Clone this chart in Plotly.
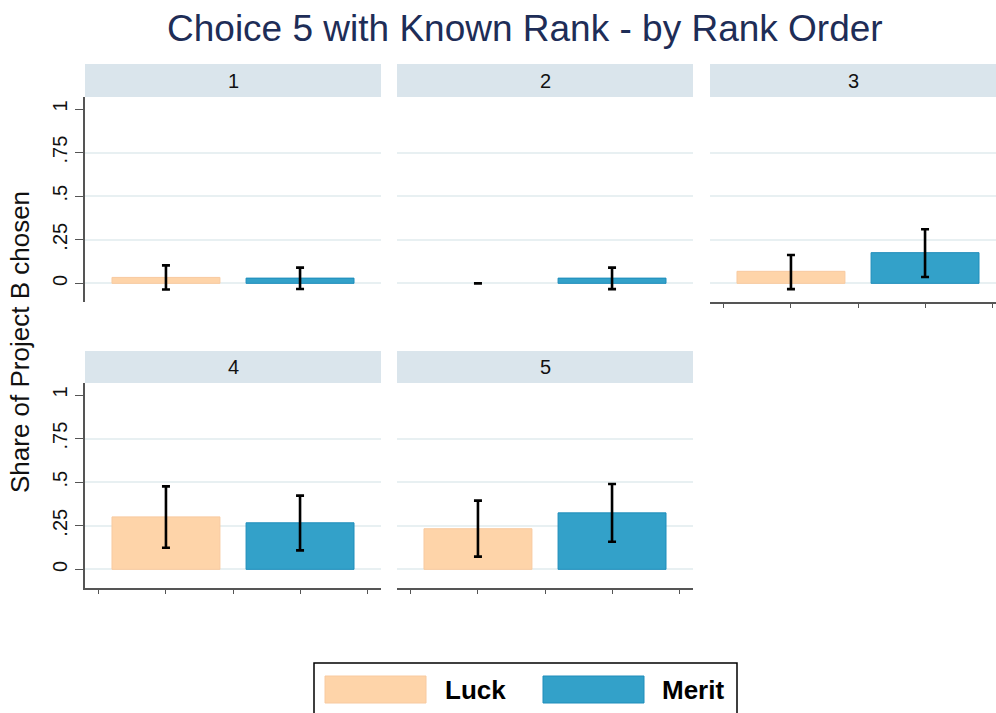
import plotly.graph_objects as go

# ---------------- data ----------------
ranks = ["1", "2", "3", "4", "5"]
groups = ["Luck", "Merit"]
luck_mean = [0.034, 0.000, 0.069, 0.301, 0.233]
luck_lo = [-0.035, 0.000, -0.033, 0.124, 0.073]
luck_hi = [0.103, 0.000, 0.163, 0.476, 0.394]
merit_mean = [0.030, 0.030, 0.176, 0.267, 0.324]
merit_lo = [-0.032, -0.033, 0.036, 0.109, 0.158]
merit_hi = [0.090, 0.090, 0.310, 0.423, 0.490]
ytick_vals = [0, 0.25, 0.5, 0.75, 1]
ytick_text = ["0", ".25", ".5", ".75", "1"]

title = "Choice 5 with Known Rank - by Rank Order"
ytitle = "Share of Project B chosen"

# ---------------- layout constants ----------------
W, H = 996, 713
LUCK_FILL, LUCK_LINE = "#fed4a9", "#f8caa0"
MERIT_FILL, MERIT_LINE = "#33a1c9", "#1e8dbb"
STRIP = "#dae5ec"
GRID = "#e8f0f2"
AXIS = "#555555"
FONT = "Liberation Sans, Arial, sans-serif"

group_x = [2, 4]
bar_w = 1.61
xr_full = [0.7925, 5.2075]
px_per_unit = 296 / (xr_full[1] - xr_full[0])

# panel pixel boxes
col_px = [(85, 381), (397, 693), (710, 996)]
row_px = [(97, 302), (383, 588)]
strip_px = [(64, 97), (351, 383)]
panels = [(0, 0), (0, 1), (0, 2), (1, 0), (1, 1)]
yr = [-0.107, 1.069]


def px_x(p):
    return p / W


def px_y(p):
    return 1 - p / H


fig = go.Figure()
shapes = []
annotations = []

for i, (r, c) in enumerate(panels):
    ax = "" if i == 0 else str(i + 1)
    xa, ya = "x" + ax, "y" + ax
    for g, mean, lo, hi, fill, line in [
        (0, luck_mean, luck_lo, luck_hi, LUCK_FILL, LUCK_LINE),
        (1, merit_mean, merit_lo, merit_hi, MERIT_FILL, MERIT_LINE),
    ]:
        fig.add_trace(go.Bar(
            x=[group_x[g]], y=[mean[i]], width=[bar_w],
            name=groups[g], showlegend=False,
            marker=dict(color=fill,
                        line=dict(color=line, width=1 if mean[i] != 0 else 0)),
            error_y=dict(type="data", symmetric=False,
                         array=[hi[i] - mean[i]], arrayminus=[mean[i] - lo[i]],
                         color="black", thickness=2.6, width=4),
            xaxis=xa, yaxis=ya, hoverinfo="skip",
        ))
    l, rr = col_px[c]
    t, b = row_px[r]
    xr = [xr_full[0], xr_full[0] + (rr - l) / px_per_unit]
    show_x_line = (r == 1) or (c == 2)
    first_col = c == 0
    fig.layout["xaxis" + ax] = dict(
        domain=[px_x(l), px_x(rr)], range=xr, anchor=ya,
        showgrid=False, zeroline=False, showticklabels=False,
        showline=show_x_line, linecolor=AXIS, linewidth=1.5,
        ticks="outside" if show_x_line else "", ticklen=4, tickcolor=AXIS,
        tickvals=[1, 2, 3, 4, 5], fixedrange=True,
    )
    fig.layout["yaxis" + ax] = dict(
        domain=[px_y(b), px_y(t)], range=yr, anchor=xa,
        tickvals=ytick_vals, ticktext=ytick_text,
        showticklabels=first_col, tickangle=-90,
        tickfont=dict(size=20, color="#111111", family=FONT),
        ticks="outside" if first_col else "", ticklen=8, tickcolor=AXIS,
        tickwidth=1.2,
        showline=first_col, linecolor=AXIS, linewidth=1.5,
        showgrid=False, zeroline=False,
        minor=dict(tickvals=[0, 0.25, 0.5, 0.75], showgrid=True,
                   gridcolor=GRID, gridwidth=1.5, ticks=""),
        fixedrange=True,
    )
    st, sb = strip_px[r]
    shapes.append(dict(type="rect", xref="paper", yref="paper",
                       x0=px_x(l), x1=px_x(rr), y0=px_y(sb), y1=px_y(st),
                       fillcolor=STRIP, line=dict(width=0), layer="below"))
    annotations.append(dict(text=ranks[i], xref="paper", yref="paper",
                            x=px_x((l + rr) / 2), y=px_y((st + sb) / 2),
                            xanchor="center", yanchor="middle", showarrow=False,
                            font=dict(size=20, color="#111111", family=FONT)))

annotations.append(dict(text=title, xref="paper", yref="paper",
                        x=px_x(525), y=px_y(28), xanchor="center", yanchor="middle",
                        showarrow=False, font=dict(size=37, color="#1e2d57", family=FONT)))
annotations.append(dict(text=ytitle, xref="paper", yref="paper",
                        x=px_x(20), y=px_y(342), xanchor="center", yanchor="middle",
                        textangle=-90, showarrow=False,
                        font=dict(size=26, color="#111111", family=FONT)))

# legend (manual)
shapes.append(dict(type="rect", xref="paper", yref="paper",
                   x0=px_x(314), x1=px_x(737), y0=px_y(725), y1=px_y(663),
                   fillcolor="white", line=dict(color="black", width=1.5)))
for g, (sx0, sx1, tx), fill, line in [
    (0, (325, 426, 443), LUCK_FILL, LUCK_LINE),
    (1, (543, 644, 660), MERIT_FILL, MERIT_LINE),
]:
    shapes.append(dict(type="rect", xref="paper", yref="paper",
                       x0=px_x(sx0), x1=px_x(sx1), y0=px_y(703), y1=px_y(676),
                       fillcolor=fill, line=dict(color=line, width=1)))
    annotations.append(dict(text="<b>" + groups[g] + "</b>", xref="paper", yref="paper",
                            x=px_x(tx), y=px_y(690), xanchor="left", yanchor="middle",
                            showarrow=False,
                            font=dict(size=26, color="black", family=FONT)))

fig.update_layout(
    width=W, height=H, margin=dict(l=0, r=0, t=0, b=0),
    paper_bgcolor="white", plot_bgcolor="white",
    shapes=shapes, annotations=annotations, showlegend=False,
    barmode="overlay", font=dict(family=FONT),
)

fig.write_html("out.html", config={"displayModeBar": False},
               post_script="document.body.style.margin='0px';document.body.style.overflow='hidden';")
